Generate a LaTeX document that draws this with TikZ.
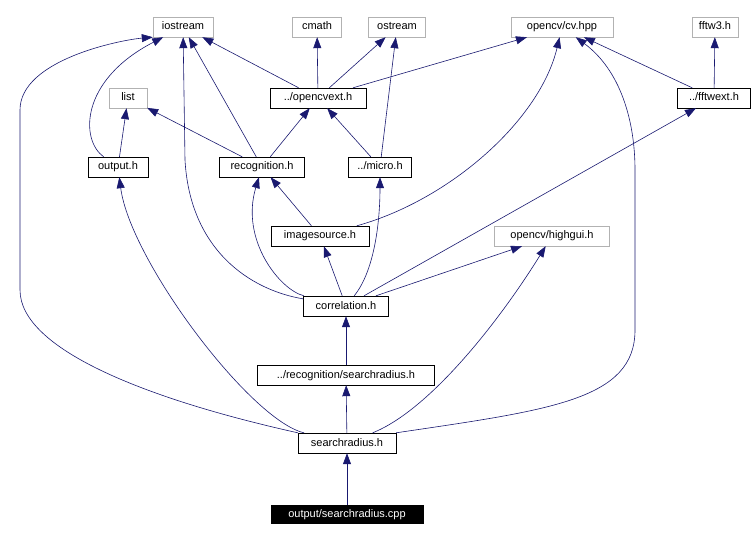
\documentclass[tikz,border=0pt]{standalone}
\usepackage{fontspec}
\setmainfont{Liberation Sans}
\usetikzlibrary{arrows.meta}
\definecolor{edgeblue}{rgb}{0.1,0.1,0.44}

\begin{document}
\begin{tikzpicture}[x=1pt,y=-1pt,
	inc/.style={draw=black,fill=white,inner sep=0pt,minimum height=20pt,text height=8pt,text depth=2pt,font=\fontsize{11}{13}\selectfont},
	ext/.style={inc,draw=gray!60},
	dep/.style={draw=edgeblue,semithick,-{Stealth[length=11pt,width=8pt,inset=0pt]}}]
	\useasboundingbox (0,0) rectangle (753,540);
	%headers outside
	\node[ext,minimum width=60pt]  (iostream) at (183,27) {iostream};
	\node[ext,minimum width=49pt]  (cmath)    at (317,27) {cmath};
	\node[ext,minimum width=57pt]  (ostream)  at (397,27) {ostream};
	\node[ext,minimum width=102pt] (cvhpp)    at (562,27) {opencv/cv.hpp};
	\node[ext,minimum width=46pt]  (fftw)     at (715,27) {fftw3.h};
	\node[ext,minimum width=38pt]  (list)     at (128,98) {list};
	\node[ext,minimum width=115pt] (highgui)  at (552,236) {opencv/highgui.h};
	%project headers
	\node[inc,minimum width=96pt]  (opencvext) at (318,98) {../opencvext.h};
	\node[inc,minimum width=73pt]  (fftwext)   at (714,98) {../fftwext.h};
	\node[inc,minimum width=60pt]  (output)    at (118,167) {output.h};
	\node[inc,minimum width=85pt]  (recog)     at (262,167) {recognition.h};
	\node[inc,minimum width=63pt]  (micro)     at (380,167) {../micro.h};
	\node[inc,minimum width=98pt]  (imgsrc)    at (320,236) {imagesource.h};
	\node[inc,minimum width=85pt]  (corr)      at (346,306) {correlation.h};
	\node[inc,minimum width=177pt] (recsr)     at (346,375) {../recognition/searchradius.h};
	\node[inc,minimum width=98pt]  (sr)        at (347,443) {searchradius.h};
	\node[inc,fill=black,text=white,minimum width=152pt,minimum height=18pt] (cpp) at (347,514) {output/searchradius.cpp};
	%arrows
	\draw[dep] (cpp) -- (sr);
	\draw[dep] (sr.north west) .. controls (150,400) and (20,350) .. (20,290) -- (20,110) .. controls (20,60) and (120,40) .. (iostream.south west);
	\draw[dep] (sr) .. controls (250,420) and (130,260) .. (output);
	\draw[dep] (sr) -- (recsr);
	\draw[dep] (sr) .. controls (430,410) and (500,320) .. (highgui);
	\draw[dep] (sr.north east) .. controls (550,410) and (635,400) .. (635,330) -- (635,170) .. controls (635,120) and (620,70) .. (cvhpp);
	\draw[dep] (recsr) -- (corr);
	\draw[dep] (corr) -- (imgsrc);
	\draw[dep] (corr) -- (highgui);
	\draw[dep] (corr) .. controls (280,290) and (240,240) .. (recog);
	\draw[dep] (corr) .. controls (250,290) and (190,250) .. (185,160) -- (iostream);
	\draw[dep] (corr) .. controls (375,270) and (380,220) .. (micro);
	\draw[dep] (corr) -- (fftwext);
	\draw[dep] (imgsrc) -- (recog);
	\draw[dep] (imgsrc) .. controls (450,200) and (540,120) .. (cvhpp);
	\draw[dep] (recog) -- (iostream);
	\draw[dep] (recog) -- (list);
	\draw[dep] (recog) -- (opencvext);
	\draw[dep] (micro) -- (ostream);
	\draw[dep] (micro) -- (opencvext);
	\draw[dep] (output) .. controls (80,140) and (80,80) .. (iostream);
	\draw[dep] (output) -- (list);
	\draw[dep] (opencvext) -- (iostream);
	\draw[dep] (opencvext) -- (cmath);
	\draw[dep] (opencvext) -- (ostream);
	\draw[dep] (opencvext) -- (cvhpp);
	\draw[dep] (fftwext) -- (cvhpp);
	\draw[dep] (fftwext) -- (fftw);
\end{tikzpicture}
\end{document}
